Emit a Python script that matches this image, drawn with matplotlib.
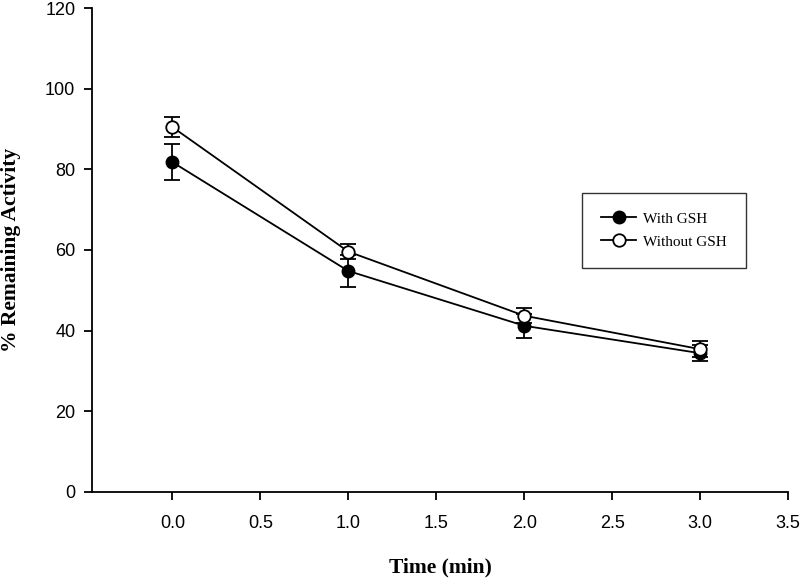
import matplotlib
matplotlib.use("Agg")
import matplotlib.pyplot as plt
from matplotlib.lines import Line2D

time = [0.0, 1.0, 2.0, 3.0]
with_gsh = [81.8, 54.8, 41.2, 34.4]
with_gsh_err = [4.5, 4.0, 3.0, 2.0]
without_gsh = [90.5, 59.6, 43.7, 35.4]
without_gsh_err = [2.5, 1.8, 1.8, 2.0]

xticks = [0.0, 0.5, 1.0, 1.5, 2.0, 2.5, 3.0, 3.5]
yticks = [0, 20, 40, 60, 80, 100, 120]
labels = ["With GSH", "Without GSH"]

fig = plt.figure(figsize=(8, 5.8), dpi=100)
ax = fig.add_axes([0.115, 0.152, 0.87, 0.834])

ax.errorbar(time, with_gsh, yerr=with_gsh_err, color="black", marker="o",
            markersize=9, markerfacecolor="black", markeredgecolor="black",
            linewidth=1.3, elinewidth=1.3, capsize=6, capthick=1.3, zorder=3)
ax.errorbar(time, without_gsh, yerr=without_gsh_err, color="black", marker="o",
            markersize=9, markerfacecolor="white", markeredgecolor="black",
            markeredgewidth=1.3, linewidth=1.3, elinewidth=1.3, capsize=6,
            capthick=1.3, zorder=4)

ax.set_xlim(-0.457, 3.5)
ax.set_ylim(0, 120)
ax.set_xticks(xticks)
ax.set_xticklabels([f"{t:.1f}" for t in xticks])
ax.set_yticks(yticks)

ax.spines["top"].set_visible(False)
ax.spines["right"].set_visible(False)
for s in ["left", "bottom"]:
    ax.spines[s].set_linewidth(1.3)
ax.tick_params(direction="out", length=6, width=1.3, labelsize=13)
ax.tick_params(axis="x", pad=11)
ax.tick_params(axis="y", pad=6)
for lab in ax.get_xticklabels() + ax.get_yticklabels():
    lab.set_fontfamily("Liberation Sans")

ax.set_xlabel("Time (min)", fontfamily="Liberation Serif", fontweight="bold",
              fontsize=15.5)
ax.xaxis.set_label_coords(0.5, -0.135)
ax.set_ylabel("% Remaining Activity", fontfamily="Liberation Serif",
              fontweight="bold", fontsize=15.5)
ax.yaxis.set_label_coords(-0.102, 0.5)

handles = [
    Line2D([], [], color="black", linewidth=1.3, marker="o", markersize=9,
           markerfacecolor="black", markeredgecolor="black"),
    Line2D([], [], color="black", linewidth=1.3, marker="o", markersize=9,
           markerfacecolor="white", markeredgecolor="black",
           markeredgewidth=1.3),
]
leg = ax.legend(handles, labels, loc="upper left",
                bbox_to_anchor=(0.704, 0.618),
                prop={"family": "Liberation Serif", "size": 11},
                frameon=True, fancybox=False, borderpad=1.25,
                handlelength=2.3, handletextpad=0.45, labelspacing=0.6,
                borderaxespad=0)
leg.get_frame().set_edgecolor("black")
leg.get_frame().set_linewidth(1.0)

fig.savefig("out.png", dpi=100)
